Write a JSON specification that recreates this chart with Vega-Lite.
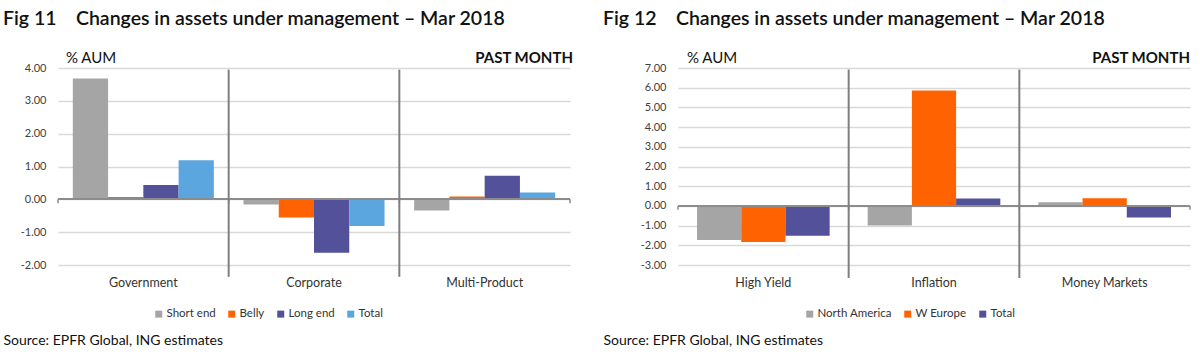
{
  "$schema": "https://vega.github.io/schema/vega-lite/v6.json",
  "background": "white",
  "padding": {"left": 3, "top": 8, "right": 0, "bottom": 0},
  "spacing": 30,
  "config": {
    "view": {"stroke": null},
    "font": "Lato",
    "locale": {"number": {"decimal": ".", "thousands": ",", "grouping": [3], "currency": ["$", ""], "minus": "-"}},
    "axisY": {"grid": true, "gridColor": "#d9d9d9", "gridWidth": 1.5, "domain": false, "ticks": false, "labelFontSize": 11, "labelColor": "#404040", "labelPadding": 12, "format": ".2f", "title": null, "tickCount": 10, "tickMinStep": 1, "labelOverlap": false},
    "axisX": {"domain": false, "ticks": false, "grid": false, "labelAngle": 0, "labelPadding": 11, "labelFontSize": 12.5, "labelColor": "#333333", "labelOverlap": false, "titleAnchor": "start", "titleBaseline": "alphabetic", "titleAlign": "left", "titleFontSize": 14, "titleFontWeight": "normal", "titleColor": "#111111", "titleY": 79},
    "legend": {"orient": "none", "direction": "horizontal", "title": null, "symbolType": "square", "symbolSize": 49, "symbolStrokeWidth": 0, "labelFontSize": 11.5, "labelColor": "#333333", "columnPadding": 10, "labelOffset": 2, "gridAlign": "each"},
    "title": {"anchor": "start", "frame": "group", "fontSize": 19.5, "fontWeight": 600, "color": "#111111", "baseline": "alphabetic", "offset": 22}
  },
  "resolve": {"scale": {"color": "independent", "x": "independent", "y": "independent", "xOffset": "independent"}, "legend": {"color": "independent"}},
  "hconcat": [
    {
      "width": 512,
      "height": 197,
      "title": {"text": "Fig 11\u00a0\u00a0\u00a0 Changes in assets under management – Mar 2018", "dx": -55},
      "data": {"values": [
        {"cat": "Government", "series": "Short end", "value": 3.68},
        {"cat": "Government", "series": "Belly", "value": 0.07},
        {"cat": "Government", "series": "Long end", "value": 0.44},
        {"cat": "Government", "series": "Total", "value": 1.19},
        {"cat": "Corporate", "series": "Short end", "value": -0.16},
        {"cat": "Corporate", "series": "Belly", "value": -0.55},
        {"cat": "Corporate", "series": "Long end", "value": -1.63},
        {"cat": "Corporate", "series": "Total", "value": -0.81},
        {"cat": "Multi-Product", "series": "Short end", "value": -0.34},
        {"cat": "Multi-Product", "series": "Belly", "value": 0.09},
        {"cat": "Multi-Product", "series": "Long end", "value": 0.72},
        {"cat": "Multi-Product", "series": "Total", "value": 0.21}
      ]},
      "layer": [
        {
          "mark": {"type": "bar"},
          "encoding": {
            "x": {"field": "cat", "type": "nominal", "scale": {"domain": ["Government", "Corporate", "Multi-Product"], "paddingInner": 0, "paddingOuter": 0},
                  "axis": {"title": "Source: EPFR Global, ING estimates", "titleX": -55}},
            "xOffset": {"field": "series", "type": "nominal", "scale": {"domain": ["Short end", "Belly", "Long end", "Total"], "paddingInner": 0, "paddingOuter": 0.42}},
            "y": {"field": "value", "type": "quantitative", "scale": {"domain": [-2, 4], "nice": false, "zero": false}},
            "color": {"field": "series", "type": "nominal", "scale": {"domain": ["Short end", "Belly", "Long end", "Total"], "range": ["#a5a5a5", "#ff6200", "#525199", "#5ba6de"]}, "legend": {"legendX": 95, "legendY": 240, "columns": 4, "gridAlign": "each"}}
          }
        },
        {
          "mark": {"type": "rule", "color": "#8c8c8c", "strokeWidth": 1.5},
          "encoding": {"y": {"datum": 0}}
        },
        {
          "data": {"values": [{"cat": "Government"}, {"cat": "Corporate"}, {"cat": "Multi-Product"}]},
          "mark": {"type": "rule", "color": "#8c8c8c", "strokeWidth": 1.5},
          "encoding": {"x": {"field": "cat", "type": "nominal", "bandPosition": 0, "scale": {"domain": ["Government", "Corporate", "Multi-Product"]}}, "y": {"datum": 0}, "y2": {"datum": -0.12}}
        },
        {
          "data": {"values": [{"cat": "Multi-Product"}]},
          "mark": {"type": "rule", "color": "#8c8c8c", "strokeWidth": 1.5},
          "encoding": {"x": {"field": "cat", "type": "nominal", "bandPosition": 1, "scale": {"domain": ["Government", "Corporate", "Multi-Product"]}}, "y": {"datum": 0}, "y2": {"datum": -0.12}}
        },
        {
          "data": {"values": [{"cat": "Corporate"}, {"cat": "Multi-Product"}]},
          "mark": {"type": "rule", "color": "#7f7f7f", "strokeWidth": 2},
          "encoding": {"x": {"field": "cat", "type": "nominal", "bandPosition": 0, "scale": {"domain": ["Government", "Corporate", "Multi-Product"]}}, "y": {"datum": 3.95}, "y2": {"datum": -2.36}}
        },
        {
          "data": {"values": [{"t": "% AUM"}]},
          "mark": {"type": "text", "align": "left", "baseline": "alphabetic", "fontSize": 15, "color": "#111111", "dx": 8, "dy": -5},
          "encoding": {"x": {"datum": "Government", "bandPosition": 0}, "y": {"datum": 4}, "text": {"field": "t"}}
        },
        {
          "data": {"values": [{"t": "PAST MONTH"}]},
          "mark": {"type": "text", "align": "right", "baseline": "alphabetic", "fontSize": 15, "fontWeight": "bold", "color": "#111111", "dx": 3, "dy": -5},
          "encoding": {"x": {"datum": "Multi-Product", "bandPosition": 1}, "y": {"datum": 4}, "text": {"field": "t"}}
        }
      ]
    },
    {
      "width": 512,
      "height": 197,
      "title": {"text": "Fig 12\u00a0\u00a0\u00a0 Changes in assets under management – Mar 2018", "dx": -75},
      "data": {"values": [
        {"cat": "High Yield", "series": "North America", "value": -1.73},
        {"cat": "High Yield", "series": "W Europe", "value": -1.83},
        {"cat": "High Yield", "series": "Total", "value": -1.51},
        {"cat": "Inflation", "series": "North America", "value": -1.0},
        {"cat": "Inflation", "series": "W Europe", "value": 5.86},
        {"cat": "Inflation", "series": "Total", "value": 0.37},
        {"cat": "Money Markets", "series": "North America", "value": 0.19},
        {"cat": "Money Markets", "series": "W Europe", "value": 0.39},
        {"cat": "Money Markets", "series": "Total", "value": -0.59}
      ]},
      "layer": [
        {
          "mark": {"type": "bar"},
          "encoding": {
            "x": {"field": "cat", "type": "nominal", "scale": {"domain": ["High Yield", "Inflation", "Money Markets"], "paddingInner": 0, "paddingOuter": 0},
                  "axis": {"title": "Source: EPFR Global, ING estimates", "titleX": -75}},
            "xOffset": {"field": "series", "type": "nominal", "scale": {"domain": ["North America", "W Europe", "Total"], "paddingInner": 0, "paddingOuter": 0.43}},
            "y": {"field": "value", "type": "quantitative", "scale": {"domain": [-3, 7], "nice": false, "zero": false}},
            "color": {"field": "series", "type": "nominal", "scale": {"domain": ["North America", "W Europe", "Total"], "range": ["#a5a5a5", "#ff6200", "#525199"]}, "legend": {"legendX": 126, "legendY": 240, "columns": 3, "gridAlign": "each"}}
          }
        },
        {
          "mark": {"type": "rule", "color": "#8c8c8c", "strokeWidth": 1.5},
          "encoding": {"y": {"datum": 0}}
        },
        {
          "data": {"values": [{"cat": "High Yield"}, {"cat": "Inflation"}, {"cat": "Money Markets"}]},
          "mark": {"type": "rule", "color": "#8c8c8c", "strokeWidth": 1.5},
          "encoding": {"x": {"field": "cat", "type": "nominal", "bandPosition": 0, "scale": {"domain": ["High Yield", "Inflation", "Money Markets"]}}, "y": {"datum": 0}, "y2": {"datum": -0.2}}
        },
        {
          "data": {"values": [{"cat": "Money Markets"}]},
          "mark": {"type": "rule", "color": "#8c8c8c", "strokeWidth": 1.5},
          "encoding": {"x": {"field": "cat", "type": "nominal", "bandPosition": 1, "scale": {"domain": ["High Yield", "Inflation", "Money Markets"]}}, "y": {"datum": 0}, "y2": {"datum": -0.2}}
        },
        {
          "data": {"values": [{"cat": "Inflation"}, {"cat": "Money Markets"}]},
          "mark": {"type": "rule", "color": "#7f7f7f", "strokeWidth": 2},
          "encoding": {"x": {"field": "cat", "type": "nominal", "bandPosition": 0, "scale": {"domain": ["High Yield", "Inflation", "Money Markets"]}}, "y": {"datum": 6.92}, "y2": {"datum": -3.66}}
        },
        {
          "data": {"values": [{"t": "% AUM"}]},
          "mark": {"type": "text", "align": "left", "baseline": "alphabetic", "fontSize": 15, "color": "#111111", "dx": 9, "dy": -5},
          "encoding": {"x": {"datum": "High Yield", "bandPosition": 0}, "y": {"datum": 7}, "text": {"field": "t"}}
        },
        {
          "data": {"values": [{"t": "PAST MONTH"}]},
          "mark": {"type": "text", "align": "right", "baseline": "alphabetic", "fontSize": 15, "fontWeight": "bold", "color": "#111111", "dx": 0, "dy": -5},
          "encoding": {"x": {"datum": "Money Markets", "bandPosition": 1}, "y": {"datum": 7}, "text": {"field": "t"}}
        }
      ]
    }
  ]
}
